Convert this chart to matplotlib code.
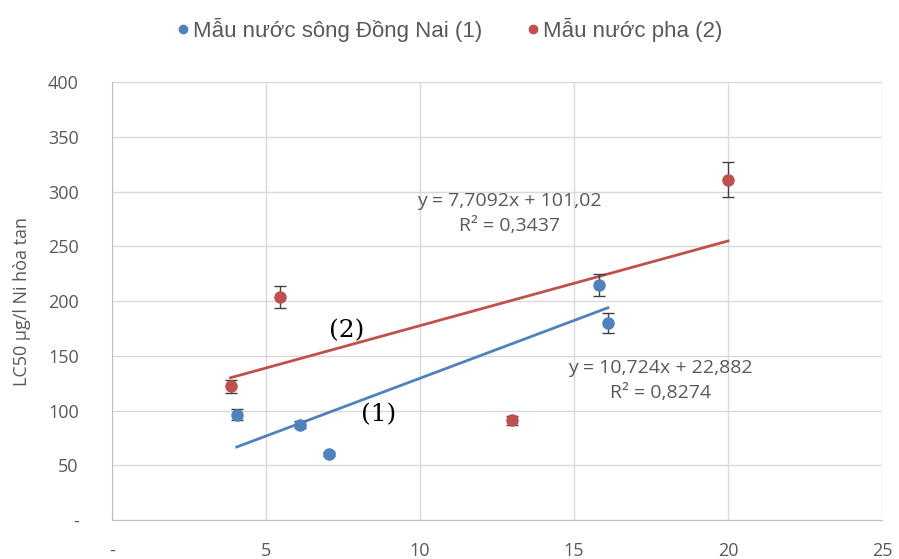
import matplotlib.pyplot as plt
from matplotlib.ticker import FuncFormatter
import numpy as np

# Series (1): Mẫu nước sông Đồng Nai
x1 = [4.05, 6.1, 7.05, 15.8, 16.1]
y1 = [96, 87, 60, 215, 180]
e1 = [5, 3, 2, 10, 9]

# Series (2): Mẫu nước pha
x2 = [3.85, 5.45, 13.0, 20.0]
y2 = [122, 204, 91, 311]
e2 = [6, 10, 4, 16]

label1 = "Mẫu nước sông Đồng Nai (1)"
label2 = "Mẫu nước pha (2)"
eq1 = "y = 10,724x + 22,882\nR² = 0,8274"
eq2 = "y = 7,7092x + 101,02\nR² = 0,3437"

BLUE = "#4F81BD"
RED = "#C0504D"
GRAY = "#595959"

plt.rcParams["font.family"] = ["Open Sans", "DejaVu Sans"]

fig = plt.figure(figsize=(8.99, 5.59), dpi=100)
ax = fig.add_axes([0.1246, 0.0698, 0.8565, 0.7832])

ax.errorbar(x1, y1, yerr=e1, fmt="o", color=BLUE, ms=8, ecolor="#404040",
            elinewidth=1, capsize=4, zorder=3, label=label1)
ax.errorbar(x2, y2, yerr=e2, fmt="o", color=RED, ms=8, ecolor="#404040",
            elinewidth=1, capsize=4, zorder=3, label=label2)

# linear trendlines
for xs, ys, c in ((x1, y1, BLUE), (x2, y2, RED)):
    p = np.polyfit(xs, ys, 1)
    xx = np.array([min(xs), max(xs)])
    ax.plot(xx, np.polyval(p, xx), color=c, lw=2, zorder=2)

ax.text(17.8, 127, eq1, ha="center", va="center", fontsize=14,
        color=GRAY, linespacing=1.5)
ax.text(12.9, 280, eq2, ha="center", va="center", fontsize=14,
        color=GRAY, linespacing=1.5)
ax.text(7.63, 173, "(2)", ha="center", va="center", fontsize=18,
        family="DejaVu Serif", color="black")
ax.text(8.64, 96, "(1)", ha="center", va="center", fontsize=18,
        family="DejaVu Serif", color="black")

ax.set_xlim(0, 25)
ax.set_ylim(0, 400)
ax.set_xticks(np.arange(0, 26, 5))
ax.set_yticks(np.arange(0, 401, 50))
dash = FuncFormatter(lambda v, pos: "-" if v == 0 else f"{v:g}")
ax.xaxis.set_major_formatter(dash)
ax.yaxis.set_major_formatter(dash)
ax.tick_params(length=0, colors=GRAY, labelsize=13)
ax.tick_params(axis="x", pad=16)
ax.tick_params(axis="y", pad=24)
ax.grid(True, color="#D9D9D9", lw=1)
ax.set_axisbelow(True)
for s in ("top", "right"):
    ax.spines[s].set_visible(False)
for s in ("left", "bottom"):
    ax.spines[s].set_color("#BFBFBF")

ax.set_ylabel("LC50 µg/l Ni hòa tan", color=GRAY, fontsize=13, labelpad=12)

handles = [plt.Line2D([], [], marker="o", ls="", color=BLUE, ms=6),
           plt.Line2D([], [], marker="o", ls="", color=RED, ms=6)]
fig.legend(handles, [label1, label2], loc="center", bbox_to_anchor=(0.5, 0.946),
           ncol=2, frameon=False, handlelength=0.6, handletextpad=0.15,
           columnspacing=2.0,
           prop={"family": "Liberation Sans", "size": 16}, labelcolor=GRAY)

fig.savefig("out.png", dpi=100)
